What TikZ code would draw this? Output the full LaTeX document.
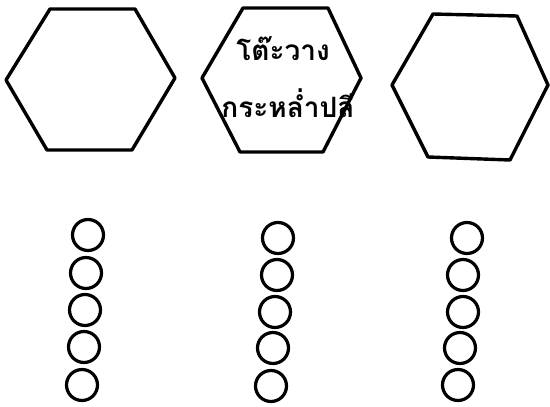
\documentclass[tikz,border=0pt]{standalone}
\usepackage{fontspec}
\newfontfamily\thaifont[Script=Thai]{Loma}
\begin{document}
\begin{tikzpicture}[x=1pt,y=-1pt,
  hexa/.style={line width=3.4pt,line join=round},
  ring/.style={circle,draw,line width=3.2pt,minimum size=31pt,inner sep=0pt},
  label/.style={font=\thaifont\bfseries\fontsize{28}{32}\selectfont,inner sep=0pt}]
\useasboundingbox[fill=white] (0,0) rectangle (550,407);
% hexagons
\draw[hexa] (50,9) -- (135,9) -- (175,78) -- (132,150) -- (47,150) -- (6,80) -- cycle;
\draw[hexa] (243,8) -- (328,8) -- (361,78) -- (323,152) -- (240,152) -- (202,78) -- cycle;
\draw[hexa] (433,14) -- (517,16) -- (548,85) -- (510,160) -- (428,157) -- (392,85) -- cycle;
\node[label] (t1) at (283,49) {โต๊ะวาง};
\node[label] (t2) at (288,103) {กระหล่ำปลี};
% left column
\node[ring] (a1) at (88,235) {};
\node[ring] (a2) at (86,273) {};
\node[ring] (a3) at (85,310) {};
\node[ring] (a4) at (84,347) {};
\node[ring] (a5) at (82,385) {};
% middle column
\node[ring] (b1) at (278,238) {};
\node[ring] (b2) at (277,275) {};
\node[ring] (b3) at (275,312) {};
\node[ring] (b4) at (273,348) {};
\node[ring] (b5) at (271,386) {};
% right column
\node[ring] (c1) at (467,238) {};
\node[ring] (c2) at (463,275) {};
\node[ring] (c3) at (463,312) {};
\node[ring] (c4) at (460,348) {};
\node[ring] (c5) at (458,385) {};
\end{tikzpicture}
\end{document}
